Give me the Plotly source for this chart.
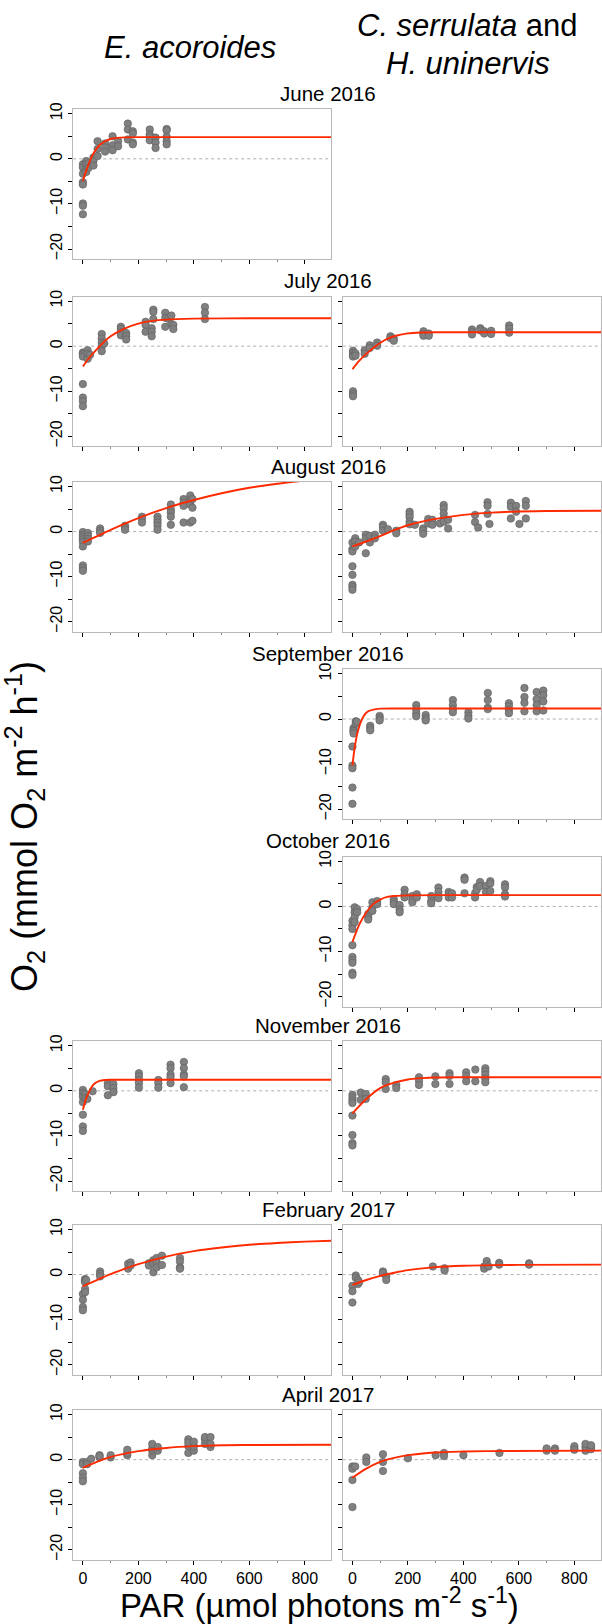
import plotly.graph_objects as go

# ---------------- data ----------------
# June 2016, E. acoroides
jun_ea_par = [0, 0, 0, 0, 0, 0, 0, 0, 12, 12, 12, 12, 20, 20, 38, 38, 38, 53, 53, 53, 80, 80, 80,
              107, 107, 107, 127, 127, 162, 162, 162, 180, 180, 180, 180, 241, 241, 241, 241,
              262, 262, 262, 302, 302, 302, 302, 302]
jun_ea_o2 = [-1.2, -1.9, -3.3, -5.2, -5.7, -9.9, -10.4, -12.3, -0.5, -1.2, -2.3, -2.9, -1.0, -2.0,
             0.3, -0.5, -1.5, 3.9, 2.2, 0.6, 3.4, 2.5, 1.6, 5.0, 3.0, 1.9, 3.9, 2.8, 7.8, 6.5, 4.3,
             6.1, 5.6, 3.6, 3.2, 6.5, 5.4, 4.9, 4.1, 4.7, 3.6, 2.4, 6.6, 6.3, 4.9, 3.9, 3.2]
jun_ea_fit_par = [0, 10, 20, 30, 40, 60, 80, 100, 125, 150, 200, 300, 500, 900]
jun_ea_fit_o2 = [-4.9, -3.0, -1.3, 0.2, 1.4, 3.0, 3.9, 4.4, 4.65, 4.75, 4.8, 4.8, 4.8, 4.8]

# July 2016, E. acoroides
jul_ea_par = [0, 0, 0, 0, 0, 0, 0, 17, 17, 17, 26, 68, 68, 68, 68, 68, 77, 137, 137, 137, 137,
              156, 156, 156, 226, 226, 226, 248, 248, 248, 254, 254, 254, 297, 297, 297, 308,
              319, 319, 326, 326, 440, 440, 440]
jul_ea_o2 = [-1.4, -1.8, -2.3, -8.4, -11.4, -12.2, -13.3, -0.9, -1.7, -2.8, -1.9, 2.7, 1.7, 0.8,
             -0.1, -1.1, 0.6, 4.3, 3.8, 3.1, 2.4, 2.9, 2.2, 1.5, 5.4, 4.7, 3.2, 4.0, 3.2, 2.2,
             8.1, 7.6, 6.0, 7.4, 6.3, 4.3, 6.1, 6.8, 4.9, 4.7, 3.8, 8.7, 7.4, 6.0]
jul_ea_fit_par = [0, 25, 50, 75, 100, 150, 200, 250, 300, 400, 600, 900]
jul_ea_fit_o2 = [-4.5, -2.4, -0.7, 0.9, 2.2, 3.9, 5.0, 5.6, 5.9, 6.1, 6.2, 6.2]

# July 2016, C. serrulata and H. uninervis
jul_ch_par = [2, 2, 2, 2, 2, 2, 2, 11, 11, 44, 44, 62, 62, 89, 89, 137, 137, 149, 149, 256, 256,
              256, 275, 275, 431, 431, 431, 461, 461, 475, 475, 500, 500, 565, 565, 565]
jul_ch_o2 = [-1.0, -1.5, -2.0, -2.3, -10.0, -10.6, -11.1, -1.6, -2.1, -0.9, -1.7, 0.2, -0.4, 0.8,
             0.1, 2.2, 1.8, 1.7, 1.2, 3.3, 2.7, 2.3, 2.8, 2.3, 3.7, 3.2, 2.6, 4.0, 3.5, 3.3, 2.8,
             3.4, 2.7, 4.6, 3.9, 3.0]
jul_ch_fit_par = [0, 25, 50, 75, 100, 125, 150, 200, 250, 300, 500, 900]
jul_ch_fit_o2 = [-5.1, -3.2, -1.7, -0.4, 0.7, 1.6, 2.2, 2.85, 3.05, 3.1, 3.1, 3.1]

# August 2016, E. acoroides
aug_ea_par = [0, 0, 0, 0, 0, 0, 0, 0, 0, 18, 18, 18, 18, 62, 62, 62, 152, 152, 152, 213, 213, 213,
              269, 269, 269, 269, 269, 317, 317, 317, 317, 317, 363, 363, 363, 363, 387, 387, 387,
              387, 395, 395, 395]
aug_ea_o2 = [-0.1, -0.7, -1.2, -1.7, -2.3, -3.3, -7.5, -8.1, -8.7, -0.3, -1.0, -1.6, -2.2, 0.7, 0.2,
             -0.3, 1.3, 0.9, 0.4, 3.3, 2.8, 2.0, 3.3, 2.6, 2.0, 1.3, 0.4, 6.0, 4.9, 4.2, 3.3, 1.5,
             7.2, 6.4, 5.7, 2.0, 8.0, 6.7, 6.0, 2.0, 7.2, 5.3, 2.4]
aug_ea_fit_par = [0, 100, 200, 300, 400, 500, 600, 700, 800, 900]
aug_ea_fit_o2 = [-2.5, 0.4, 3.0, 5.2, 7.0, 8.5, 9.7, 10.6, 11.3, 11.9]

# August 2016, C. serrulata and H. uninervis
aug_ch_par = [0, 0, 0, 0, 0, 0, 0, 0, 10, 10, 10, 24, 48, 48, 48, 63, 63, 81, 81, 110, 110, 110,
              128, 158, 158, 206, 206, 206, 206, 206, 225, 255, 255, 255, 273, 273, 288, 288, 315,
              329, 329, 329, 329, 329, 345, 345, 442, 442, 453, 487, 487, 487, 494, 571, 571, 571,
              590, 590, 602, 625, 625, 625]
aug_ch_o2 = [-2.4, -3.9, -4.4, -7.7, -9.6, -11.8, -12.3, -12.9, -1.5, -2.2, -3.3, -2.4, -0.7, -1.5,
             -4.8, -1.0, -2.4, -0.7, -1.5, 1.5, 1.0, 0.2, 0.5, 0.2, -0.4, 4.4, 3.8, 3.2, 2.2, 1.6,
             1.5, 0.7, 0.2, -0.5, 2.8, 1.8, 2.6, 1.5, 1.8, 5.9, 5.1, 4.0, 2.9, 2.2, 2.6, 0.7, 3.7,
             2.1, 0.9, 6.5, 5.7, 3.9, 1.7, 6.4, 5.5, 2.9, 5.7, 4.4, 1.7, 6.8, 5.7, 2.9]
aug_ch_fit_par = [0, 50, 100, 150, 200, 300, 400, 500, 600, 700, 900]
aug_ch_fit_o2 = [-3.3, -2.2, -1.0, 0.3, 1.4, 2.8, 3.7, 4.2, 4.45, 4.55, 4.6]

# September 2016, C. serrulata and H. uninervis
sep_ch_par = [0, 0, 0, 0, 0, 4, 4, 4, 4, 12, 12, 16, 64, 64, 64, 98, 98, 98, 230, 230, 230, 230,
              264, 264, 264, 362, 362, 362, 362, 418, 418, 418, 488, 488, 488, 488, 564, 564, 564,
              564, 620, 620, 620, 620, 664, 664, 664, 664, 688, 688, 688, 688]
sep_ch_o2 = [-6.1, -10.3, -10.9, -15.2, -18.8, -2.0, -2.5, -2.7, -3.2, -0.5, -1.0, -0.6, -1.5, -2.0,
             -2.5, 0.7, 0.2, -0.3, 3.1, 2.2, 1.3, 0.6, 0.9, 0.2, -0.3, 4.2, 3.1, 2.2, 1.5, 1.5, 0.7,
             0.1, 5.8, 4.2, 2.5, 2.2, 3.5, 2.8, 2.0, 1.3, 6.9, 4.9, 3.6, 1.7, 6.0, 4.4, 3.1, 1.7,
             6.3, 5.3, 3.9, 1.9]
sep_ch_fit_par = [0, 5, 10, 15, 20, 30, 40, 50, 60, 75, 100, 150, 300, 900]
sep_ch_fit_o2 = [-10.3, -7.7, -5.6, -3.9, -2.6, -0.7, 0.6, 1.4, 1.8, 2.1, 2.3, 2.35, 2.35, 2.35]

# October 2016, C. serrulata and H. uninervis
oct_ch_par = [0, 0, 0, 0, 0, 0, 0, 0, 0, 8, 8, 8, 8, 17, 17, 57, 57, 57, 72, 72, 72, 89, 89, 149,
              149, 149, 170, 170, 170, 188, 188, 188, 216, 216, 216, 232, 232, 284, 284, 284, 310,
              310, 310, 310, 347, 347, 347, 359, 359, 404, 404, 404, 442, 442, 448, 448, 460, 460,
              481, 481, 497, 497, 497, 550, 550, 550, 550]
oct_ch_o2 = [-3.2, -4.2, -5.0, -8.6, -11.2, -11.9, -12.5, -14.7, -15.2, -0.2, -1.3, -2.4, -3.5, -0.6,
             -1.3, -1.7, -2.4, -2.9, 0.9, -0.2, -1.0, 1.2, 0.5, 1.6, 1.0, 0.5, 0.3, -0.7, -1.3, 3.7,
             2.7, 2.0, 2.3, 1.5, 0.9, 2.7, 2.0, 2.3, 1.2, 0.7, 4.2, 3.2, 2.3, 1.8, 3.2, 2.7, 2.0,
             2.9, 2.0, 6.4, 5.9, 2.9, 2.9, 2.0, 4.3, 3.7, 5.4, 4.5, 4.5, 3.2, 5.6, 5.1, 3.4, 4.9,
             4.2, 2.7, 2.2]
oct_ch_fit_par = [0, 25, 50, 75, 100, 125, 150, 200, 300, 900]
oct_ch_fit_o2 = [-7.9, -4.0, -1.3, 0.5, 1.5, 2.1, 2.3, 2.45, 2.5, 2.5]

# November 2016, E. acoroides
nov_ea_par = [0, 0, 0, 0, 0, 0, 0, 8, 8, 16, 35, 90, 90, 90, 110, 110, 110, 202, 202, 202, 202, 202,
              272, 272, 272, 316, 316, 316, 316, 316, 364, 364, 364, 364, 364]
nov_ea_o2 = [0.2, -0.5, -1.3, -2.5, -5.3, -7.9, -8.9, -0.7, -1.6, -1.8, -0.1, 1.7, 1.0, -1.0, 1.5,
             0.6, -0.3, 3.9, 3.2, 2.4, 1.7, 0.7, 2.4, 1.7, 0.7, 5.8, 5.0, 3.6, 3.0, 1.7, 6.4, 5.0,
             3.6, 3.2, 0.8]
nov_ea_fit_par = [0, 10, 20, 30, 40, 60, 80, 100, 200, 900]
nov_ea_fit_o2 = [-4.2, -2.0, -0.5, 0.7, 1.5, 2.2, 2.4, 2.45, 2.45, 2.45]

# November 2016, C. serrulata and H. uninervis
nov_ch_par = [0, 0, 0, 0, 0, 0, 0, 0, 30, 30, 48, 48, 120, 120, 120, 158, 158, 240, 240, 240, 299,
              299, 350, 350, 350, 410, 410, 410, 443, 443, 479, 479, 479, 479, 479]
nov_ch_o2 = [-0.9, -1.6, -2.2, -2.7, -5.5, -9.8, -11.6, -12.1, -0.4, -2.0, -0.7, -1.8, 2.6, 1.9, 0.4,
             1.3, 0.6, 3.0, 2.2, 1.3, 3.2, 1.5, 3.9, 3.3, 1.5, 4.1, 3.2, 2.1, 4.7, 2.1, 5.0, 4.3,
             3.6, 2.7, 1.9]
nov_ch_fit_par = [0, 50, 100, 150, 200, 250, 300, 400, 900]
nov_ch_fit_o2 = [-5.0, -1.8, 0.6, 1.8, 2.5, 2.8, 2.95, 3.0, 3.0]

# February 2017, E. acoroides
feb_ea_par = [0, 0, 0, 0, 8, 8, 8, 8, 8, 12, 62, 62, 62, 163, 163, 172, 172, 238, 238, 254, 254, 254,
              266, 266, 266, 285, 285, 350, 350, 350, 350]
feb_ea_o2 = [-4.3, -5.6, -7.2, -7.9, -1.0, -1.3, -1.7, -3.2, -3.9, -1.2, 0.7, 0.1, -0.4, 2.4, 1.3,
             2.7, 2.0, 2.5, 2.0, 3.2, 2.4, 0.5, 3.7, 2.7, 1.6, 4.2, 2.1, 3.7, 2.9, 1.6, 1.3]
feb_ea_fit_par = [0, 100, 200, 300, 400, 500, 600, 700, 800, 900]
feb_ea_fit_o2 = [-2.6, 0.1, 2.3, 4.0, 5.2, 6.0, 6.6, 7.0, 7.3, 7.5]

# February 2017, C. serrulata and H. uninervis
feb_ch_par = [0, 0, 0, 12, 12, 20, 20, 24, 110, 110, 122, 122, 290, 332, 332, 475, 475, 484, 484,
              491, 529, 529, 637, 637]
feb_ch_o2 = [-2.5, -3.7, -6.2, -0.2, -0.7, -1.2, -2.1, -1.7, 0.7, 0.3, -0.4, -1.2, 1.8, 1.4, 0.9,
             1.8, 1.3, 3.0, 2.2, 1.8, 2.6, 2.2, 2.5, 2.2]
feb_ch_fit_par = [0, 50, 100, 150, 200, 300, 400, 500, 600, 900]
feb_ch_fit_o2 = [-2.3, -1.2, -0.3, 0.4, 1.0, 1.65, 1.95, 2.1, 2.15, 2.2]

# April 2017, E. acoroides
apr_ea_par = [0, 0, 0, 0, 0, 15, 15, 30, 60, 60, 60, 100, 100, 160, 160, 160, 250, 250, 250, 250,
              270, 270, 380, 380, 380, 380, 400, 400, 400, 440, 440, 440, 460, 460, 460]
apr_ea_o2 = [-0.5, -1.0, -3.0, -4.0, -4.8, -0.5, -1.0, 0.2, 0.5, 1.0, 0.8, 0.5, 1.0, 1.0, 1.5, 2.2,
             1.0, 2.0, 2.5, 3.5, 2.0, 2.8, 1.5, 3.0, 4.5, 3.8, 2.0, 3.0, 4.0, 3.5, 4.5, 5.0, 2.8,
             3.5, 5.0]
apr_ea_fit_par = [0, 100, 200, 300, 400, 500, 600, 900]
apr_ea_fit_o2 = [-1.8, 0.6, 1.9, 2.6, 3.0, 3.2, 3.25, 3.3]

# April 2017, C. serrulata and H. uninervis
apr_ch_par = [0, 0, 0, 0, 10, 50, 50, 110, 110, 110, 200, 300, 330, 330, 400, 530, 700, 700, 730,
              730, 800, 800, 800, 840, 840, 840, 860, 860, 860]
apr_ch_o2 = [-1.5, -2.0, -4.5, -10.5, -1.5, 0.5, -0.5, 1.2, -0.5, -2.5, 0.3, 1.0, 1.5, 0.8, 1.0,
             1.5, 2.0, 2.5, 2.5, 2.0, 2.5, 3.0, 2.2, 2.0, 2.8, 3.5, 3.0, 2.3, 3.2]
apr_ch_fit_par = [0, 50, 100, 150, 200, 300, 400, 500, 900]
apr_ch_fit_o2 = [-4.0, -2.0, -0.5, 0.4, 1.0, 1.6, 1.8, 1.9, 2.0]

month_titles = ["June 2016", "July 2016", "August 2016", "September 2016", "October 2016",
                "November 2016", "February 2017", "April 2017"]
x_ticks = [0, 200, 400, 600, 800]
x_minor = [100, 300, 500, 700]
y_ticks = [-20, -10, 0, 10]
y_minor = [-15, -5, 5]

# (row, column, points x, points y, fit x, fit y)
panels = [
    (0, 0, jun_ea_par, jun_ea_o2, jun_ea_fit_par, jun_ea_fit_o2),
    (1, 0, jul_ea_par, jul_ea_o2, jul_ea_fit_par, jul_ea_fit_o2),
    (1, 1, jul_ch_par, jul_ch_o2, jul_ch_fit_par, jul_ch_fit_o2),
    (2, 0, aug_ea_par, aug_ea_o2, aug_ea_fit_par, aug_ea_fit_o2),
    (2, 1, aug_ch_par, aug_ch_o2, aug_ch_fit_par, aug_ch_fit_o2),
    (3, 1, sep_ch_par, sep_ch_o2, sep_ch_fit_par, sep_ch_fit_o2),
    (4, 1, oct_ch_par, oct_ch_o2, oct_ch_fit_par, oct_ch_fit_o2),
    (5, 0, nov_ea_par, nov_ea_o2, nov_ea_fit_par, nov_ea_fit_o2),
    (5, 1, nov_ch_par, nov_ch_o2, nov_ch_fit_par, nov_ch_fit_o2),
    (6, 0, feb_ea_par, feb_ea_o2, feb_ea_fit_par, feb_ea_fit_o2),
    (6, 1, feb_ch_par, feb_ch_o2, feb_ch_fit_par, feb_ch_fit_o2),
    (7, 0, apr_ea_par, apr_ea_o2, apr_ea_fit_par, apr_ea_fit_o2),
    (7, 1, apr_ch_par, apr_ch_o2, apr_ch_fit_par, apr_ch_fit_o2),
]

# ---------------- layout geometry (pixels) ----------------
W, H = 602, 1624
COL_X = [(73.3, 332.0), (343.3, 602.0)]
ROW_TOP = [102.7, 291.0, 477.3, 665.7, 854.0, 1039.3, 1224.0, 1410.0]
PANEL_H = 150.5
FONT = "Liberation Sans, Arial, sans-serif"
has_left = {p[0] for p in panels if p[1] == 0}

fig = go.Figure()
layout = dict(width=W, height=H, margin=dict(l=0, r=0, t=0, b=0), autosize=False,
              paper_bgcolor="white", plot_bgcolor="white", showlegend=False,
              font=dict(family=FONT, color="black"))
shapes = []
annotations = []

for i, (r, c, px, py, fx, fy) in enumerate(panels, start=1):
    xa = "x" if i == 1 else f"x{i}"
    ya = "y" if i == 1 else f"y{i}"
    x0, x1 = COL_X[c]
    top = ROW_TOP[r]
    fig.add_trace(go.Scatter(x=px, y=py, mode="markers", xaxis=xa, yaxis=ya,
                             marker=dict(size=7.5, color="#808080",
                                         line=dict(color="#5e5e5e", width=0.6)),
                             hoverinfo="x+y"))
    fig.add_trace(go.Scatter(x=fx, y=fy, mode="lines", xaxis=xa, yaxis=ya,
                             line=dict(color="#ff2a00", width=1.9, shape="spline", smoothing=0.8),
                             hoverinfo="skip"))
    layout["xaxis" if i == 1 else f"xaxis{i}"] = dict(
        domain=[x0 / W, x1 / W], anchor=ya, range=[-35, 896],
        showline=True, linecolor="#b8b8b8", linewidth=1, mirror=True,
        showgrid=False, zeroline=False,
        ticks="outside", tickvals=x_ticks, ticklen=4, tickwidth=1.3, tickcolor="black",
        minor=dict(ticks="outside", tickvals=x_minor, ticklen=2, tickwidth=1, tickcolor="#888888"),
        showticklabels=(r == len(ROW_TOP) - 1),
        tickfont=dict(size=16, family=FONT, color="black"))
    show_y = (c == 0) or (r not in has_left)
    layout["yaxis" if i == 1 else f"yaxis{i}"] = dict(
        domain=[1 - (top + PANEL_H) / H, 1 - top / H], anchor=xa, range=[-22.2, 11.0],
        showline=True, linecolor="#b8b8b8", linewidth=1, mirror=True,
        showgrid=False, zeroline=False,
        ticks="outside", tickvals=y_ticks, ticklen=4, tickwidth=1.3,
        tickcolor="black", tickangle=-90, showticklabels=show_y,
        minor=dict(ticks="outside", tickvals=y_minor, ticklen=4, tickwidth=1.3, tickcolor="black"),
        tickfont=dict(size=16, family=FONT, color="black"))
    shapes.append(dict(type="line", xref=f"{xa} domain", x0=0, x1=1, yref=ya, y0=0, y1=0,
                       line=dict(color="#9a9a9a", width=0.8, dash="dot"), layer="below"))

for r, title in enumerate(month_titles):
    annotations.append(dict(text=title, xref="paper", yref="paper", x=329 / W,
                            y=1 - (ROW_TOP[r] - 16) / H, xanchor="center", yanchor="middle",
                            showarrow=False, font=dict(size=20.5, family=FONT, color="black")))

annotations += [
    dict(text="<i>E. acoroides</i>", xref="paper", yref="paper", x=190 / W, y=1 - 41 / H,
         xanchor="center", yanchor="middle", showarrow=False, font=dict(size=31, family=FONT)),
    dict(text="<i>C. serrulata</i> and", xref="paper", yref="paper", x=468 / W, y=1 - 19 / H,
         xanchor="center", yanchor="middle", showarrow=False, font=dict(size=31, family=FONT)),
    dict(text="<i>H. uninervis</i>", xref="paper", yref="paper", x=469 / W, y=1 - 57 / H,
         xanchor="center", yanchor="middle", showarrow=False, font=dict(size=31, family=FONT)),
    dict(text="PAR (µmol photons m<sup>-2</sup> s<sup>-1</sup>)", xref="paper", yref="paper",
         x=320 / W, y=1 - 1604 / H, xanchor="center", yanchor="middle", showarrow=False,
         font=dict(size=33, family=FONT)),
    dict(text="O<sub>2</sub> (mmol O<sub>2</sub> m<sup>-2</sup> h<sup>-1</sup>)", xref="paper",
         yref="paper", x=25 / W, y=1 - 823 / H, xanchor="center", yanchor="middle",
         textangle=-90, showarrow=False, font=dict(size=36, family=FONT)),
]

layout["shapes"] = shapes
layout["annotations"] = annotations
fig.update_layout(**layout)
fig.write_html("out.html", config={"displayModeBar": False},
               post_script="document.body.style.margin='0px';")
